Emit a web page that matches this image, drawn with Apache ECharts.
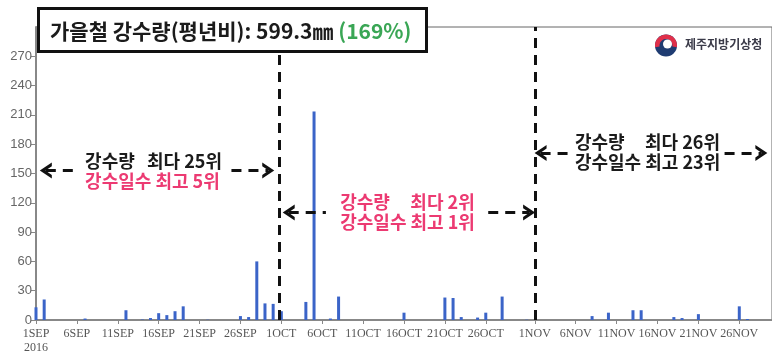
<!DOCTYPE html>
<html>
<head>
<meta charset="utf-8">
<script src="https://cdn.jsdelivr.net/npm/echarts@6/dist/echarts.min.js"></script>
<style>
  html, body { margin: 0; padding: 0; background: #fff; }
  #chart { width: 772px; height: 355px; }
</style>
</head>
<body>
<div id="chart"></div>
<script>
// day index counted from 1 Sep 2016 (0 = 1SEP, 30 = 1OCT, 61 = 1NOV)
const rainDays = [0, 1, 6, 11, 13, 14, 15, 16, 17, 18, 21, 25, 26, 27, 28, 29, 30, 33, 34, 36, 37,
  45, 50, 51, 52, 54, 55, 57, 60, 68, 70, 73, 74, 78, 79, 81, 86, 87]
const rainMm = [13, 21, 1.5, 10, 0.5, 2, 7, 5, 9, 14, 0.3, 4, 3, 60, 17, 16.5, 9, 18.5, 213.5, 1.5, 24,
  7.5, 23, 22.5, 3, 2.5, 7.5, 24, 0.3, 4, 7.5, 10, 10, 3, 2, 6, 14, 1]

const tickDays = [0, 5, 10, 15, 20, 25, 30, 35, 40, 45, 50, 55, 61, 66, 71, 76, 81, 86]
const tickLabels = ['1SEP\n2016', '6SEP', '11SEP', '16SEP', '21SEP', '26SEP',
  '1OCT', '6OCT', '11OCT', '16OCT', '21OCT', '26OCT',
  '1NOV', '6NOV', '11NOV', '16NOV', '21NOV', '26NOV']

// season breaks (end of Sep / start of Nov)
const breakDays = [29.7, 61]

const DARK = '#1b1b1b'
const PINK = '#ec3a72'
const KR = 'Noto Sans CJK KR'

// arrow pieces: [from day, to day, mm, head]
const arrows = [
  [1.2, 4.75, 153, 'start'], [23.9, 28.4, 153, 'end'],
  [30.9, 35.45, 110, 'start'], [55.3, 60.3, 110, 'end'],
  [61.7, 65, 171, 'start'], [84.2, 88.7, 171, 'end']
]

const notes = [
  { day: 6, mm: 152, text: '{d|강수량   최다 25위}\n{p|강수일수 최고 5위}' },
  { day: 37.2, mm: 110.5, text: '{p|강수량     최다 2위}\n{p|강수일수 최고 1위}' },
  { day: 65.9, mm: 172, text: '{d|강수량     최다 26위}\n{d|강수일수 최고 23위}' }
]

const chevron = 'path://M0,12 L8,0 L16,12 L12.4,12 L8,5.6 L3.6,12 Z'

const chart = echarts.init(document.getElementById('chart'))

const lineData = breakDays.map(d => ({ xAxis: d }))
arrows.forEach(([a, b, y, head]) => {
  lineData.push([
    { coord: [a, y], symbol: head === 'start' ? chevron : 'none', symbolSize: [16, 12] },
    { coord: [b, y], symbol: head === 'end' ? chevron : 'none', symbolSize: [16, 12] }
  ])
})

chart.setOption({
  animation: false,
  grid: {
    left: 36,
    right: -3,
    top: 27,
    bottom: 34,
    show: true,
    borderColor: '#666',
    borderWidth: 1
  },
  xAxis: {
    type: 'value',
    min: 0,
    max: 90,
    axisLine: { lineStyle: { color: '#888', width: 2 } },
    axisTick: { customValues: tickDays, length: 4, lineStyle: { color: '#888' } },
    axisLabel: {
      customValues: tickDays,
      formatter: v => tickLabels[tickDays.indexOf(v)],
      color: '#555',
      fontFamily: 'Liberation Serif',
      fontSize: 12,
      lineHeight: 14,
      margin: 7
    },
    splitLine: { show: false }
  },
  yAxis: {
    type: 'value',
    min: 0,
    max: 300,
    interval: 30,
    axisLine: { show: true, lineStyle: { color: '#888', width: 2 } },
    axisTick: { show: true, length: 5, lineStyle: { color: '#888' } },
    axisLabel: {
      showMaxLabel: false,
      color: '#666',
      fontFamily: 'Liberation Sans',
      fontSize: 13,
      margin: 4
    },
    splitLine: { show: false }
  },
  series: [{
    type: 'bar',
    data: rainDays.map((d, i) => [d, rainMm[i]]),
    barWidth: 3,
    itemStyle: { color: '#3b64c8' },
    markLine: {
      silent: true,
      symbol: 'none',
      label: { show: false },
      lineStyle: { color: '#111', width: 3, type: [10, 7] },
      emphasis: { disabled: true },
      data: lineData
    }
  }]
})

// text boxes and logo
const graphic = [
  {
    type: 'rect',
    z: 100,
    shape: { x: 38.5, y: 8.5, width: 388, height: 43 },
    style: { fill: '#fff', stroke: '#111', lineWidth: 3 }
  },
  {
    type: 'text',
    z: 101,
    x: 50,
    y: 31,
    style: {
      text: '{a|가을철 강수량(평년비): 599.3㎜ }{g|(169%)}',
      verticalAlign: 'middle',
      rich: {
        a: { fontFamily: KR, fontWeight: 'bold', fontSize: 21, fill: DARK },
        g: { fontFamily: KR, fontWeight: 'bold', fontSize: 21, fill: '#3aa655' }
      }
    }
  },
  { type: 'circle', z: 100, shape: { cx: 666, cy: 45.5, r: 11 }, style: { fill: '#1f3c72' } },
  { type: 'sector', z: 101, shape: { cx: 666, cy: 45.5, r: 11, r0: 6.5, startAngle: -Math.PI * 1.05, endAngle: Math.PI * 0.05 }, style: { fill: '#e0304a' } },
  { type: 'circle', z: 102, shape: { cx: 667.5, cy: 44, r: 4.5 }, style: { fill: '#fff' } },
  {
    type: 'text',
    z: 100,
    x: 685,
    y: 44,
    style: { text: '제주지방기상청', fontFamily: KR, fontWeight: 'bold', fontSize: 12, fill: '#3a3a48', verticalAlign: 'middle' }
  }
]

notes.forEach(n => {
  const [px, py] = chart.convertToPixel({ seriesIndex: 0 }, [n.day, n.mm])
  graphic.push({
    type: 'text',
    z: 100,
    x: px,
    y: py,
    style: {
      text: n.text,
      align: 'left',
      verticalAlign: 'middle',
      rich: {
        d: { fontFamily: KR, fontWeight: 'bold', fontSize: 18, lineHeight: 20, fill: DARK },
        p: { fontFamily: KR, fontWeight: 'bold', fontSize: 18, lineHeight: 20, fill: PINK }
      }
    }
  })
})

chart.setOption({ graphic: graphic })
</script>
</body>
</html>
